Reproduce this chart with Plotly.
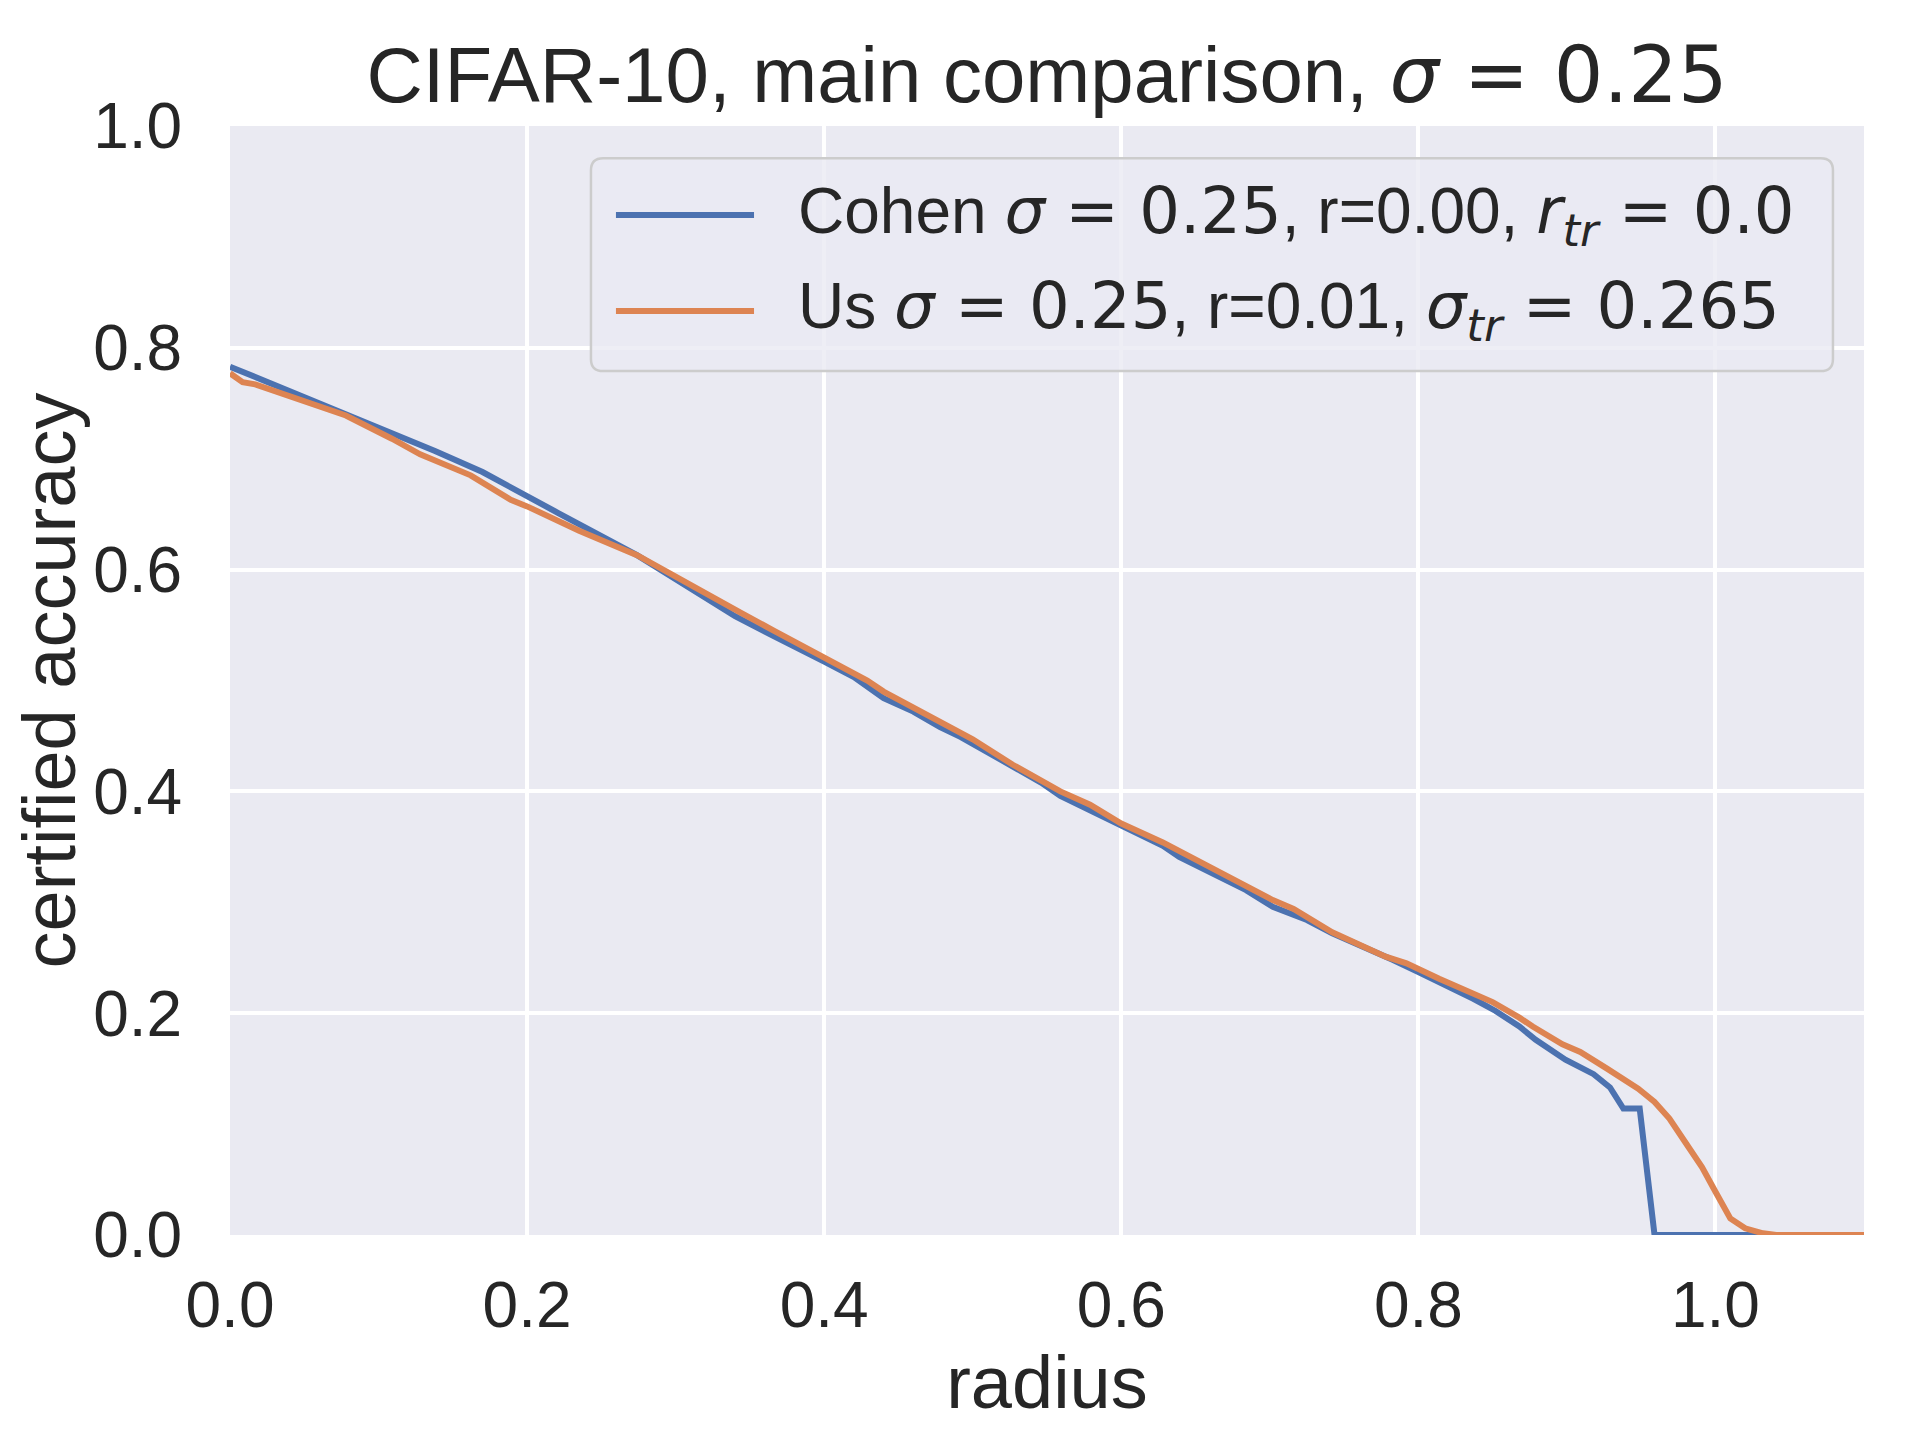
import plotly.graph_objects as go

# certified accuracy vs radius
cohen_r = [0.0, 0.048, 0.097, 0.138, 0.170, 0.200, 0.221, 0.274, 0.340, 0.366,
           0.389, 0.400, 0.420, 0.429, 0.440, 0.460, 0.478, 0.492, 0.514, 0.530,
           0.546, 0.559, 0.579, 0.600, 0.628, 0.639, 0.662, 0.684, 0.702, 0.725,
           0.742, 0.763, 0.783, 0.800, 0.814, 0.837, 0.852, 0.868, 0.879, 0.888,
           0.899, 0.918, 0.929, 0.938, 0.949, 0.959, 1.1]
cohen_acc = [0.783, 0.757, 0.730, 0.707, 0.688, 0.667, 0.651, 0.613, 0.558, 0.540,
             0.525, 0.517, 0.503, 0.495, 0.484, 0.472, 0.458, 0.449, 0.432, 0.420,
             0.408, 0.396, 0.383, 0.368, 0.351, 0.341, 0.326, 0.311, 0.296, 0.284,
             0.272, 0.260, 0.248, 0.237, 0.228, 0.213, 0.202, 0.188, 0.176, 0.168,
             0.158, 0.145, 0.133, 0.114, 0.114, 0.0, 0.0]

us_r = [0.0, 0.0085, 0.017, 0.046, 0.078, 0.109, 0.128, 0.162, 0.189, 0.200,
        0.235, 0.274, 0.308, 0.344, 0.366, 0.389, 0.420, 0.429, 0.440, 0.469,
        0.482, 0.500, 0.527, 0.559, 0.579, 0.600, 0.628, 0.660, 0.682, 0.702,
        0.716, 0.742, 0.778, 0.792, 0.814, 0.837, 0.850, 0.868, 0.877, 0.897,
        0.909, 0.927, 0.948, 0.959, 0.969, 0.979, 0.991, 1.000, 1.010, 1.020,
        1.032, 1.041, 1.1]
us_acc = [0.777, 0.769, 0.767, 0.754, 0.739, 0.718, 0.704, 0.685, 0.663, 0.657,
          0.635, 0.613, 0.587, 0.561, 0.545, 0.529, 0.507, 0.500, 0.490, 0.469,
          0.459, 0.447, 0.424, 0.400, 0.388, 0.371, 0.354, 0.331, 0.315, 0.302,
          0.294, 0.273, 0.251, 0.245, 0.231, 0.218, 0.210, 0.196, 0.188, 0.172,
          0.165, 0.150, 0.132, 0.120, 0.105, 0.085, 0.061, 0.039, 0.015, 0.006,
          0.0015, 0.0, 0.0]

tick_vals = [0.0, 0.2, 0.4, 0.6, 0.8, 1.0]
tick_text = ['0.0', '0.2', '0.4', '0.6', '0.8', '1.0']

font = 'Liberation Sans, Arial, sans-serif'
ink = '#262626'
blue = '#4C72B0'
orange = '#DD8452'


def m(s):
    # matplotlib mathtext look
    return '<span style="font-family:DejaVu Sans">' + s + '</span>'


labels = [
    'Cohen ' + m('<i>σ</i> = 0.25') + ', r=0.00, ' + m('<i>r<sub>tr</sub></i> = 0.0'),
    'Us ' + m('<i>σ</i> = 0.25') + ', r=0.01, ' + m('<i>σ<sub>tr</sub></i> = 0.265'),
]

fig = go.Figure()
fig.add_trace(go.Scatter(x=cohen_r, y=cohen_acc, mode='lines', showlegend=False,
                         line=dict(color=blue, width=6)))
fig.add_trace(go.Scatter(x=us_r, y=us_acc, mode='lines', showlegend=False,
                         line=dict(color=orange, width=6)))

# legend drawn by hand (matplotlib style: long line samples, rounded frame)
x0, x1, y0, y1 = 0.2209, 0.981, 0.779, 0.971
rx, ry = 0.0075, 0.011
frame = (f'M {x0+rx},{y0} L {x1-rx},{y0} Q {x1},{y0} {x1},{y0+ry} '
         f'L {x1},{y1-ry} Q {x1},{y1} {x1-rx},{y1} L {x0+rx},{y1} '
         f'Q {x0},{y1} {x0},{y1-ry} L {x0},{y0+ry} Q {x0},{y0} {x0+rx},{y0} Z')
fig.add_shape(type='path', path=frame, xref='paper', yref='paper', layer='above',
              fillcolor='rgba(234,234,242,0.8)', line=dict(color='#cccccc', width=2.5))
rows = [0.9197, 0.8332]
for yy, col, lab in zip(rows, [blue, orange], labels):
    fig.add_shape(type='line', xref='paper', yref='paper', layer='above',
                  x0=0.2362, x1=0.3207, y0=yy, y1=yy,
                  line=dict(color=col, width=6))
    fig.add_annotation(x=0.3464, y=yy, xref='paper', yref='paper',
                       xanchor='left', yanchor='middle', showarrow=False,
                       text=lab, font=dict(size=64, color=ink, family=font))

axis_common = dict(
    showgrid=True, gridcolor='white', gridwidth=3.5,
    zeroline=False, showline=False,
    ticks='outside', tickcolor='rgba(0,0,0,0)',
    tickfont=dict(size=64, color=ink, family=font),
    tickvals=tick_vals, ticktext=tick_text,
)

fig.update_layout(
    width=1920, height=1440,
    margin=dict(l=222, r=64, t=118, b=213),
    paper_bgcolor='white', plot_bgcolor='#EAEAF2',
    font=dict(family=font, color=ink),
    title=dict(
        text='CIFAR-10, main comparison, ' + m('<i>σ</i> = 0.25'),
        font=dict(size=78, color=ink, family=font),
        x=0.5, xref='paper', xanchor='center',
        y=1 - 67 / 1440, yref='container', yanchor='middle',
    ),
    xaxis=dict(axis_common, range=[0, 1.1], ticklen=14,
               title=dict(text='radius', font=dict(size=74, color=ink, family=font), standoff=5)),
    yaxis=dict(axis_common, range=[0, 1.0], ticklen=34,
               title=dict(text='certified accuracy', font=dict(size=74, color=ink, family=font), standoff=14)),
)

fig.write_html('out.html')
